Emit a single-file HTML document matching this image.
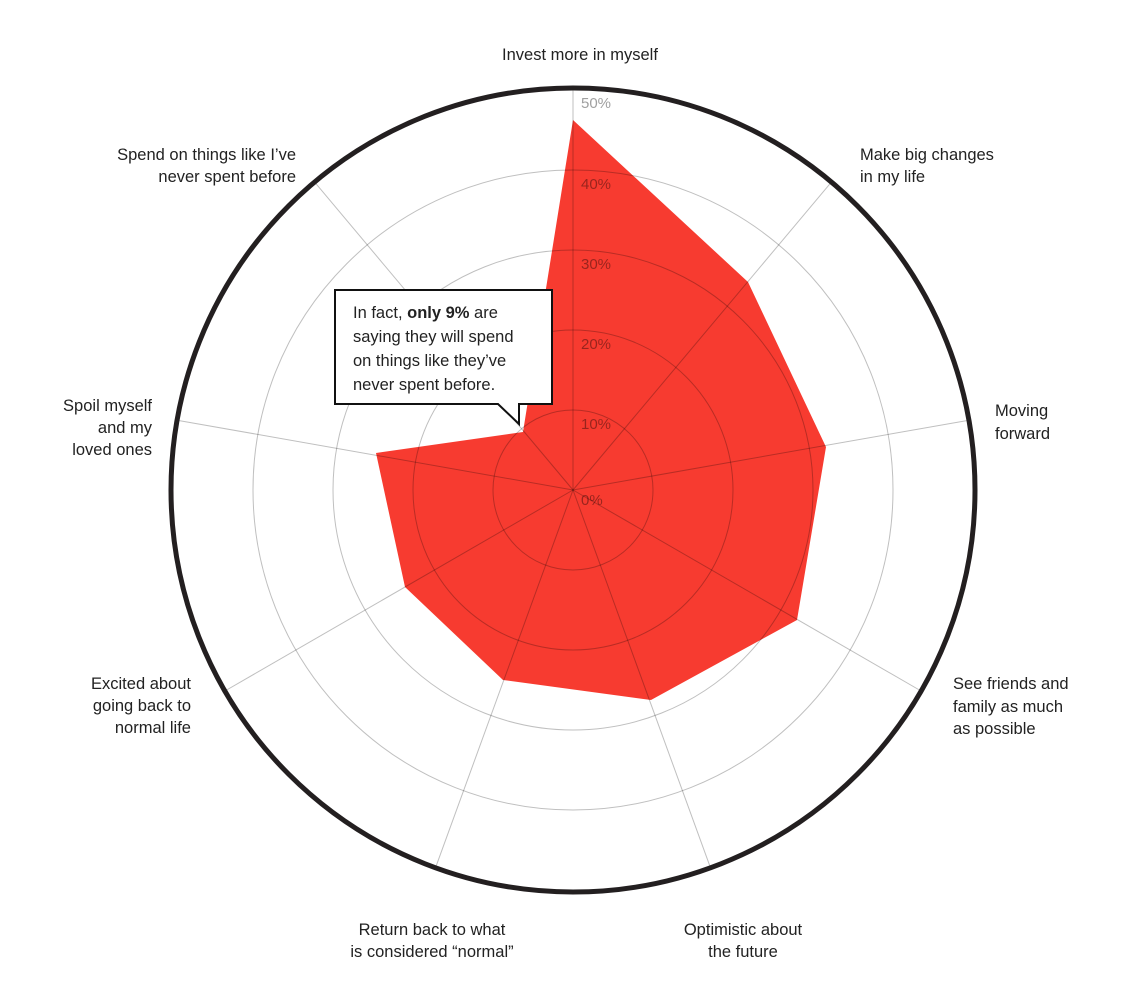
<!DOCTYPE html>
<html><head><meta charset="utf-8"><style>
html,body{margin:0;padding:0;background:#fff;}
svg text{font-family:"Liberation Sans",sans-serif;font-size:16.5px;fill:#222;}
.t{fill:#999;font-size:15px;}
</style></head><body>
<svg width="1125" height="999" viewBox="0 0 1125 999" xmlns="http://www.w3.org/2000/svg">
<polygon points="573,120 748,282 826,447 797,620 651,700 503,680 405,587 376,453 523,432" fill="#f73b30"/>
<g fill="none" stroke="rgba(0,0,0,0.25)" stroke-width="1">
<circle cx="573" cy="490" r="80"/><circle cx="573" cy="490" r="160"/><circle cx="573" cy="490" r="240"/><circle cx="573" cy="490" r="320"/>
<line x1="573" y1="490" x2="573" y2="88"/>
<line x1="573" y1="490" x2="831.4" y2="182.1"/>
<line x1="573" y1="490" x2="968.9" y2="420.2"/>
<line x1="573" y1="490" x2="921.1" y2="691"/>
<line x1="573" y1="490" x2="710.5" y2="867.8"/>
<line x1="573" y1="490" x2="435.5" y2="867.8"/>
<line x1="573" y1="490" x2="224.9" y2="691"/>
<line x1="573" y1="490" x2="177.1" y2="420.2"/>
<line x1="573" y1="490" x2="314.6" y2="182.1"/>
</g>
<circle cx="573" cy="490" r="402" fill="none" stroke="#231f20" stroke-width="5"/>
<g class="t">
<text class="t" x="581" y="108" style="fill:#a0a0a0">50%</text>
<text class="t" x="581" y="189" style="fill:rgba(0,0,0,0.38)">40%</text>
<text class="t" x="581" y="269" style="fill:rgba(0,0,0,0.38)">30%</text>
<text class="t" x="581" y="349" style="fill:rgba(0,0,0,0.38)">20%</text>
<text class="t" x="581" y="429" style="fill:rgba(0,0,0,0.38)">10%</text>
<text class="t" x="581" y="505" style="fill:rgba(0,0,0,0.38)">0%</text>
</g>
<path d="M335,290 H552 V404 H519 V424 L498,404 H335 Z" fill="#fff" stroke="#111" stroke-width="2"/>
<text x="353" y="318">In fact, <tspan font-weight="bold">only 9%</tspan> are</text>
<text x="353" y="342">saying they will spend</text>
<text x="353" y="366">on things like they’ve</text>
<text x="353" y="390">never spent before.</text>
<text x="580" y="60" text-anchor="middle">Invest more in myself</text>
<text x="860" y="160">Make big changes</text><text x="860" y="182">in my life</text>
<text x="995" y="416">Moving</text><text x="995" y="439">forward</text>
<text x="953" y="689">See friends and</text><text x="953" y="712">family as much</text><text x="953" y="734">as possible</text>
<text x="743" y="935" text-anchor="middle">Optimistic about</text><text x="743" y="957" text-anchor="middle">the future</text>
<text x="432" y="935" text-anchor="middle">Return back to what</text><text x="432" y="957" text-anchor="middle">is considered “normal”</text>
<text x="191" y="689" text-anchor="end">Excited about</text><text x="191" y="711" text-anchor="end">going back to</text><text x="191" y="733" text-anchor="end">normal life</text>
<text x="152" y="411" text-anchor="end">Spoil myself</text><text x="152" y="433" text-anchor="end">and my</text><text x="152" y="455" text-anchor="end">loved ones</text>
<text x="296" y="160" text-anchor="end">Spend on things like I’ve</text><text x="296" y="182" text-anchor="end">never spent before</text>
</svg>
</body></html>
